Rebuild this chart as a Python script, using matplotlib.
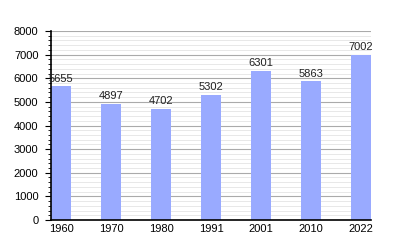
import numpy as np
import matplotlib.pyplot as plt
from matplotlib.ticker import MultipleLocator

plt.rcParams.update({
    'font.family': 'Liberation Sans',
    'font.size': 8,
})

years = ['1960', '1970', '1980', '1991', '2001', '2010', '2022']
population = [5655, 4897, 4702, 5302, 6301, 5863, 7002]

fig = plt.figure(figsize=(4, 2.5), dpi=100)
ax = fig.add_axes([0.1275, 0.12, 0.8, 0.756])

x = np.arange(len(years))
ax.bar(x, population, width=0.4, color='#99aaff', zorder=2)

for xi, v in zip(x, population):
    ax.text(xi, v + 120, str(v), ha='center', va='bottom', fontsize=8, color='#222222', zorder=3)

ax.set_xlim(-0.2, 6.2)
ax.set_ylim(0, 8000)
ax.set_xticks(x)
ax.set_xticklabels(years)
ax.yaxis.set_major_locator(MultipleLocator(1000))
ax.yaxis.set_minor_locator(MultipleLocator(200))

ax.grid(axis='y', which='major', color='#aaaaaa', lw=0.8, zorder=0)
ax.grid(axis='y', which='minor', color='#e8e8e8', lw=0.7, zorder=0)

for s in ['top', 'right']:
    ax.spines[s].set_visible(False)
ax.spines['left'].set_linewidth(1.2)
ax.spines['bottom'].set_linewidth(1.2)
ax.tick_params(axis='x', length=0, pad=3)
ax.tick_params(axis='y', which='major', length=4, direction='out', pad=5)
ax.tick_params(axis='y', which='minor', length=2.5, direction='out')

fig.savefig('out.png', dpi=100)
